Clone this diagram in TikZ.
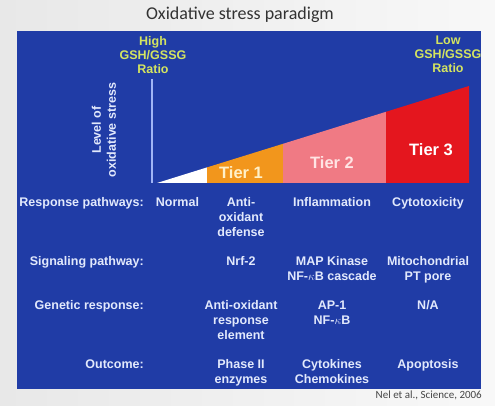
\documentclass[tikz,border=0pt]{standalone}
\usepackage{fontspec}
\setmainfont{Liberation Sans}
\newfontfamily\titlefont{Carlito}
\definecolor{panelblue}{RGB}{32,60,166}
\definecolor{txtc}{RGB}{226,233,252}
\definecolor{ratioc}{RGB}{212,228,96}
\definecolor{tieroa}{RGB}{242,150,28}
\definecolor{tierpk}{RGB}{240,122,132}
\definecolor{tierrd}{RGB}{228,22,30}
\definecolor{axisc}{RGB}{160,180,245}
\begin{document}
\begin{tikzpicture}[x=1pt,y=-1pt,
  lbl/.style={font=\fontsize{12.5}{15}\selectfont\bfseries, text=txtc, align=center, inner sep=0pt, anchor=north},
  rowlbl/.style={lbl, anchor=north east, align=right},
  ratio/.style={font=\fontsize{12.5}{14}\selectfont\bfseries, text=ratioc, align=center, inner sep=0pt, anchor=north},
  tier/.style={font=\fontsize{16.5}{18}\selectfont\bfseries, inner sep=0pt}]
\useasboundingbox (0,0) rectangle (495,406);
\shade[left color={rgb,255:red,232;green,232;blue,232}, right color={rgb,255:red,248;green,248;blue,248}] (0,0) rectangle (495,406);
\node[font=\titlefont\fontsize{18}{20}\selectfont, text={rgb,255:red,50;green,50;blue,50}, inner sep=0pt] (title) at (240,15) {Oxidative stress paradigm};
\fill[panelblue] (17,31) rectangle (481,389);
% triangle
\fill[white] (157,183) -- (207,183) -- (207,167.4) -- cycle;
\fill[tieroa] (207,183) -- (283,183) -- (283,143.8) -- (207,167.4) -- cycle;
\fill[tierpk] (283,183) -- (386,183) -- (386,111.8) -- (283,143.8) -- cycle;
\fill[tierrd] (386,183) -- (469,183) -- (469,86) -- (386,111.8) -- cycle;
\coordinate (axtop) at (152,79);
\coordinate (axbot) at (152,183);
\draw[axisc, line width=1.2pt] (axtop) -- (axbot);
\node[tier, text={rgb,255:red,255;green,240;blue,200}] (t1) at (241,173) {Tier 1};
\node[tier, text={rgb,255:red,255;green,228;blue,228}] (t2) at (332,163) {Tier 2};
\node[tier, text=white] (t3) at (431,150) {Tier 3};
\node[ratio] (high) at (153,36.2) {High\\GSH/GSSG\\Ratio};
\node[ratio] (low) at (448,36.2) {Low\\GSH/GSSG\\Ratio};
\node[lbl, anchor=center, rotate=90] (level) at (104,130) {Level of\\oxidative stress};
% rows
\node[rowlbl] (r1) at (144,197.2) {Response pathways:};
\node[lbl] (normal) at (177.5,197.2) {Normal};
\node[lbl] (antiox) at (241,197.2) {Anti-\\oxidant\\defense};
\node[lbl] (infl) at (332,197.2) {Inflammation};
\node[lbl] (cyto) at (428,197.2) {Cytotoxicity};
\node[rowlbl] (r2) at (144,256.2) {Signaling pathway:};
\node[lbl] (nrf) at (241,256.2) {Nrf-2};
\node[lbl] (map) at (332,256.2) {MAP Kinase\\NF-$\kappa$B cascade};
\node[lbl] (mito) at (428,256.2) {Mitochondrial\\PT pore};
\node[rowlbl] (r3) at (144,300.2) {Genetic response:};
\node[lbl] (are) at (241,300.2) {Anti-oxidant\\response\\element};
\node[lbl] (ap1) at (332,300.2) {AP-1\\NF-$\kappa$B};
\node[lbl] (na) at (428,300.2) {N/A};
\node[rowlbl] (r4) at (144,359.2) {Outcome:};
\node[lbl] (phase) at (241,359.2) {Phase II\\enzymes};
\node[lbl] (cytok) at (332,359.2) {Cytokines\\Chemokines};
\node[lbl] (apop) at (428,359.2) {Apoptosis};
\node[font=\titlefont\fontsize{11}{12}\selectfont, text={rgb,255:red,70;green,70;blue,70}, inner sep=0pt, anchor=east] (ref) at (482,395) {Nel et al., Science, 2006};
\end{tikzpicture}
\end{document}
